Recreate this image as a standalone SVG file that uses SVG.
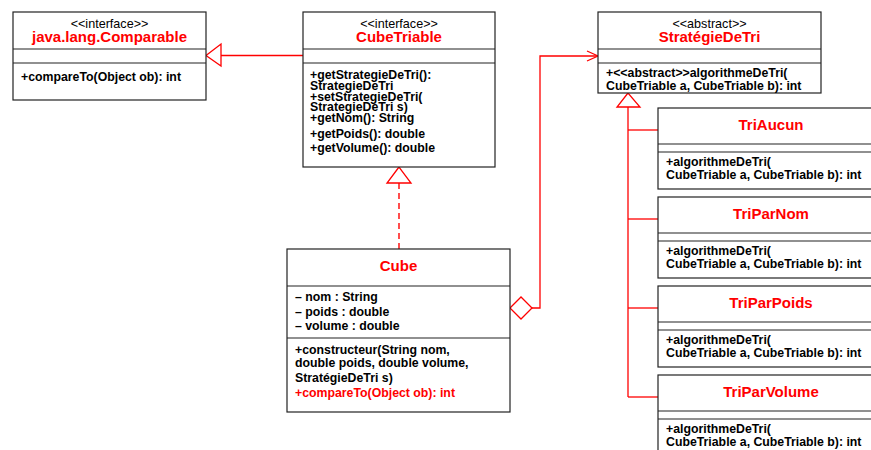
<svg xmlns="http://www.w3.org/2000/svg" width="871" height="450" viewBox="0 0 871 450">
<style>
.box{fill:#fff;stroke:#222;stroke-width:1.2}
.div{stroke:#222;stroke-width:1.2}
.st{font-family:"Liberation Sans",Arial,sans-serif;font-size:12.6px;fill:#000;text-anchor:middle}
.nm{font-family:"Liberation Sans",Arial,sans-serif;font-size:15px;font-weight:bold;fill:#ff0000;text-anchor:middle}
.mb{font-family:"Liberation Sans",Arial,sans-serif;font-size:12.3px;font-weight:bold;fill:#000}
.red{fill:#ff0000}
.conn{fill:none;stroke:#ff0000;stroke-width:1.3}
.dash{fill:none;stroke:#ff3b3b;stroke-width:1.8;stroke-dasharray:6 4}
.head{fill:#fff;stroke:#ff0000;stroke-width:1.3}
</style>
<rect width="871" height="450" fill="#fff"/>
<g id="connectors">
<line class="conn" x1="221" y1="55.5" x2="303" y2="55.5"/>
<polygon class="head" points="206,55.5 221,44 221,66"/>
<line class="dash" x1="399" y1="183" x2="399" y2="249"/>
<polygon class="head" points="399,167 387,183 411,183"/>
<polyline class="conn" points="532,308 540,308 540,56 597,56"/>
<polyline class="conn" points="587,51 598,56 587,61"/>
<polygon class="head" points="510,308 521,297 532,308 521,319"/>
<line class="conn" x1="628" y1="107" x2="628" y2="397"/>
<line class="conn" x1="628" y1="130" x2="658" y2="130"/>
<line class="conn" x1="628" y1="219" x2="658" y2="219"/>
<line class="conn" x1="628" y1="308" x2="658" y2="308"/>
<line class="conn" x1="628" y1="397" x2="658" y2="397"/>
<polygon class="head" points="628,93 617,107 640,107"/>
</g>
<g id="Comparable">
<rect class="box" x="13" y="12" width="193" height="88"/>
<line class="div" x1="13" y1="49" x2="206" y2="49"/>
<line class="div" x1="13" y1="63" x2="206" y2="63"/>
<text class="st" x="109.5" y="27.5">&lt;&lt;interface&gt;&gt;</text>
<text class="nm" x="109.5" y="41.5">java.lang.Comparable</text>
<text class="mb" x="21" y="81">+compareTo(Object ob): int</text>
</g>
<g id="CubeTriable">
<rect class="box" x="303" y="12" width="192" height="155"/>
<line class="div" x1="303" y1="49" x2="495" y2="49"/>
<line class="div" x1="303" y1="63" x2="495" y2="63"/>
<text class="st" x="399" y="27.5">&lt;&lt;interface&gt;&gt;</text>
<text class="nm" x="399" y="41.5">CubeTriable</text>
<text class="mb" x="310" y="79">+getStrategieDeTri():</text>
<text class="mb" x="310" y="90">StrategieDeTri</text>
<text class="mb" x="310" y="101">+setStrategieDeTri(</text>
<text class="mb" x="310" y="111">StrategieDeTri s)</text>
<text class="mb" x="310" y="122">+getNom(): String</text>
<text class="mb" x="310" y="138">+getPoids(): double</text>
<text class="mb" x="310" y="152">+getVolume(): double</text>
</g>
<g id="StrategieDeTri">
<rect class="box" x="598" y="12" width="223" height="81"/>
<line class="div" x1="598" y1="49" x2="821" y2="49"/>
<line class="div" x1="598" y1="63" x2="821" y2="63"/>
<text class="st" x="709.5" y="27.5">&lt;&lt;abstract&gt;&gt;</text>
<text class="nm" x="709.5" y="41.5">StratégieDeTri</text>
<text class="mb" x="606" y="77">+&lt;&lt;abstract&gt;&gt;algorithmeDeTri(</text>
<text class="mb" x="606" y="90">CubeTriable a, CubeTriable b): int</text>
</g>
<g id="Cube">
<rect class="box" x="287" y="249" width="223" height="163"/>
<line class="div" x1="287" y1="286" x2="510" y2="286"/>
<line class="div" x1="287" y1="338" x2="510" y2="338"/>
<text class="nm" x="398.5" y="271">Cube</text>
<text class="mb" x="295" y="301">– nom : String</text>
<text class="mb" x="295" y="316">– poids : double</text>
<text class="mb" x="295" y="330">– volume : double</text>
<text class="mb" x="295" y="354">+constructeur(String nom,</text>
<text class="mb" x="295" y="367">double poids, double volume,</text>
<text class="mb" x="295" y="382">StratégieDeTri s)</text>
<text class="mb red" x="295" y="397">+compareTo(Object ob): int</text>
</g>
<g id="TriAucun">
<rect class="box" x="658" y="108" width="240" height="81"/>
<line class="div" x1="658" y1="144" x2="898" y2="144"/>
<line class="div" x1="658" y1="152" x2="898" y2="152"/>
<text class="nm" x="771" y="130">TriAucun</text>
<text class="mb" x="666" y="166">+algorithmeDeTri(</text>
<text class="mb" x="666" y="179">CubeTriable a, CubeTriable b): int</text>
</g>
<g id="TriParNom">
<rect class="box" x="658" y="197" width="240" height="81"/>
<line class="div" x1="658" y1="233" x2="898" y2="233"/>
<line class="div" x1="658" y1="241" x2="898" y2="241"/>
<text class="nm" x="771" y="219">TriParNom</text>
<text class="mb" x="666" y="255">+algorithmeDeTri(</text>
<text class="mb" x="666" y="268">CubeTriable a, CubeTriable b): int</text>
</g>
<g id="TriParPoids">
<rect class="box" x="658" y="286" width="240" height="81"/>
<line class="div" x1="658" y1="322" x2="898" y2="322"/>
<line class="div" x1="658" y1="330" x2="898" y2="330"/>
<text class="nm" x="771" y="308">TriParPoids</text>
<text class="mb" x="666" y="344">+algorithmeDeTri(</text>
<text class="mb" x="666" y="357">CubeTriable a, CubeTriable b): int</text>
</g>
<g id="TriParVolume">
<rect class="box" x="658" y="375" width="240" height="81"/>
<line class="div" x1="658" y1="411" x2="898" y2="411"/>
<line class="div" x1="658" y1="419" x2="898" y2="419"/>
<text class="nm" x="771" y="397">TriParVolume</text>
<text class="mb" x="666" y="433">+algorithmeDeTri(</text>
<text class="mb" x="666" y="446">CubeTriable a, CubeTriable b): int</text>
</g>
</svg>
